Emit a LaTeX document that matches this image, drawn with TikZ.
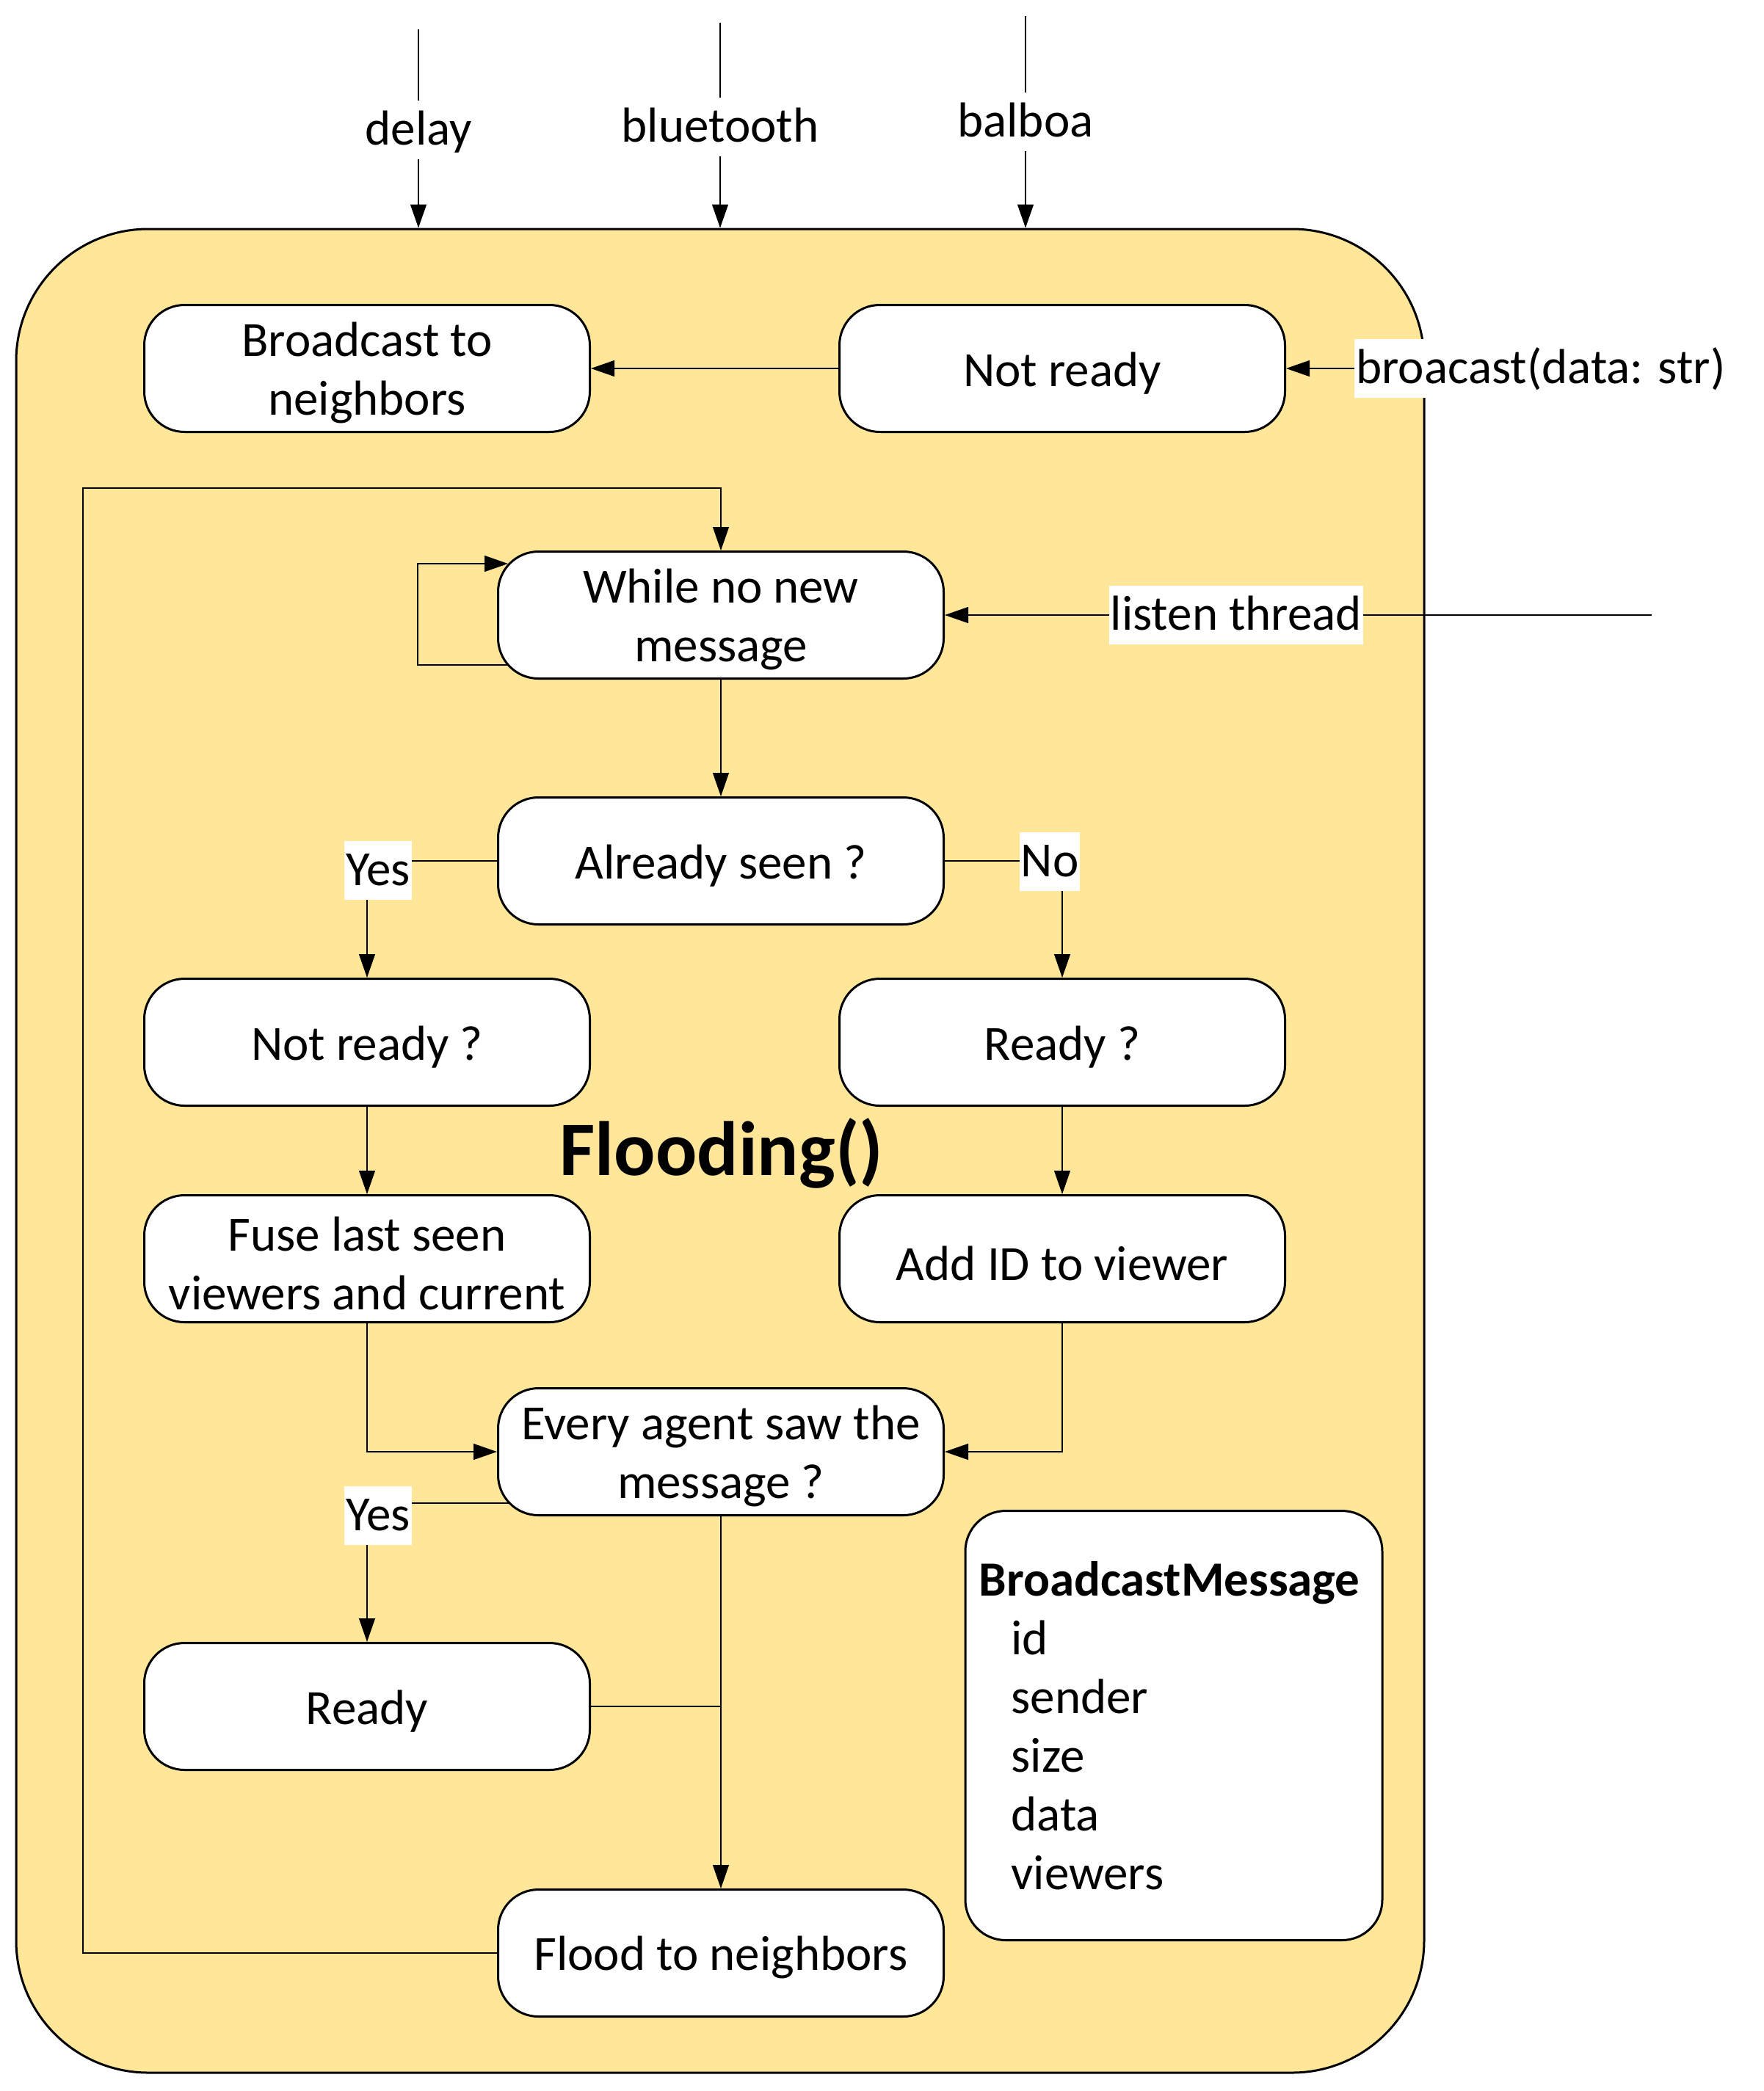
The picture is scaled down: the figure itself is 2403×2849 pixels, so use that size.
\documentclass[tikz,border=0pt]{standalone}
\usepackage{fontspec}
\setmainfont{Carlito}
\usetikzlibrary{arrows.meta}
\pgfdeclarelayer{bg}
\pgfdeclarelayer{mid}
\pgfsetlayers{bg,mid,main}
\definecolor{flood}{HTML}{FFE699}
\newcommand{\topst}{\rule{0pt}{59pt}}
\tikzset{
  x=1pt, y=-1pt,
  stepbox/.style={draw, line width=3pt, fill=white, rounded corners=55pt,
    minimum width=607pt, minimum height=173pt, inner sep=0pt, align=center,
    font=\fontsize{67}{80}\selectfont},
  conn/.style={line width=1.2pt},
  arr/.style={conn, -{Triangle[length=32pt,width=22pt]}},
  lbl/.style={fill=white, inner xsep=2pt, inner ysep=0pt, text height=60pt, text depth=20pt,
    font=\fontsize{67}{80}\selectfont},
}
\begin{document}
\begin{tikzpicture}
\useasboundingbox (0,0) rectangle (2403,2849);

% background and container
\begin{pgfonlayer}{bg}
\fill[white] (0,0) rectangle (2403,2849);
\node[draw, line width=3pt, fill=flood, rounded corners=180pt, minimum width=1918pt,
  minimum height=2512pt, inner sep=0pt] (cont) at (981,1568) {};
\end{pgfonlayer}

% nodes
\node[stepbox] (bcast) at (500,502) {\topst Broadcast to\\neighbors};
\node[stepbox] (nrtop) at (1447,502) {\topst Not ready};
\node[stepbox] (while) at (982,838) {\topst While no new\\message};
\node[stepbox] (seen) at (982,1173) {\topst Already seen ?};
\node[stepbox] (nrq) at (500,1420) {\topst Not ready ?};
\node[stepbox] (rq) at (1447,1420) {\topst Ready ?};
\node[stepbox] (fuse) at (500,1715) {\topst Fuse last seen\\viewers and current};
\node[stepbox] (addid) at (1447,1715) {\topst Add ID to viewer};
\node[stepbox] (every) at (982,1978) {\topst Every agent saw the\\message ?};
\node[stepbox] (ready) at (500,2325) {\topst Ready};
\node[stepbox] (flood) at (982,2661) {\topst Flood to neighbors};
\node[draw, line width=3pt, fill=white, rounded corners=55pt, minimum width=568pt,
  minimum height=585pt, inner xsep=18pt, inner ysep=0pt, text width=531pt, align=left,
  font=\fontsize{67}{80}\selectfont] (msg) at (1599,2351)
  {\textbf{BroadcastMessage}\\\hspace*{44pt}id\\\hspace*{44pt}sender\\\hspace*{44pt}size\\\hspace*{44pt}data\\\hspace*{44pt}viewers};

\node[font=\fontsize{105}{120}\bfseries] (title) at (983,1571) {Flooding()};

% free-end coordinates
\coordinate (dtop) at (570,40);
\coordinate (btop) at (981,31);
\coordinate (atop) at (1397,22);
\coordinate (ltend) at (2250,838);
\coordinate (loopA) at (700,906);
\coordinate (loopB) at (569,906);
\coordinate (loopC) at (569,768);
\coordinate (loopD) at (692,768);
\coordinate (ret) at (113,665);
\coordinate (evY) at (698,2048);

\begin{pgfonlayer}{mid}
\draw[arr] (dtop) -- (dtop |- cont.north);
\draw[arr] (btop) -- (btop |- cont.north);
\draw[arr] (atop) -- (atop |- cont.north);
\draw[arr] (nrtop.west) -- (bcast.east);
\draw[arr] (ltend) -- (while.east);
\draw[arr] (loopA) -- (loopB) -- (loopC) -- (loopD);
\draw[arr] (flood.west) -| (ret) -| (while.north);
\draw[arr] (while.south) -- (seen.north);
\draw[arr] (seen.west) -| (nrq.north);
\draw[arr] (seen.east) -| (rq.north);
\draw[arr] (nrq.south) -- (fuse.north);
\draw[arr] (rq.south) -- (addid.north);
\draw[arr] (fuse.south) |- (every.west);
\draw[arr] (addid.south) |- (every.east);
\draw[arr] (evY) -| (ready.north);
\draw[arr] (every.south) -- (flood.north);
\draw[conn] (ready.east) -- (ready.east -| every.south);
\end{pgfonlayer}

% labels
\node[lbl] (ldelay) at (570,177) {delay};
\node[lbl] (lblue) at (981,173) {bluetooth};
\node[lbl] (lbal) at (1397,166) {balboa};
\node[lbl] (lbc) at (2099,502) {broacast(data: str)};
\draw[arr] (lbc.west) -- (nrtop.east);
\node[lbl] (llisten) at (1684,838) {listen thread};
\node[lbl] (lyes1) at (515,1186) {Yes};
\node[lbl] (lno) at (1430,1174) {No};
\node[lbl] (lyes2) at (515,2065) {Yes};
\end{tikzpicture}
\end{document}
